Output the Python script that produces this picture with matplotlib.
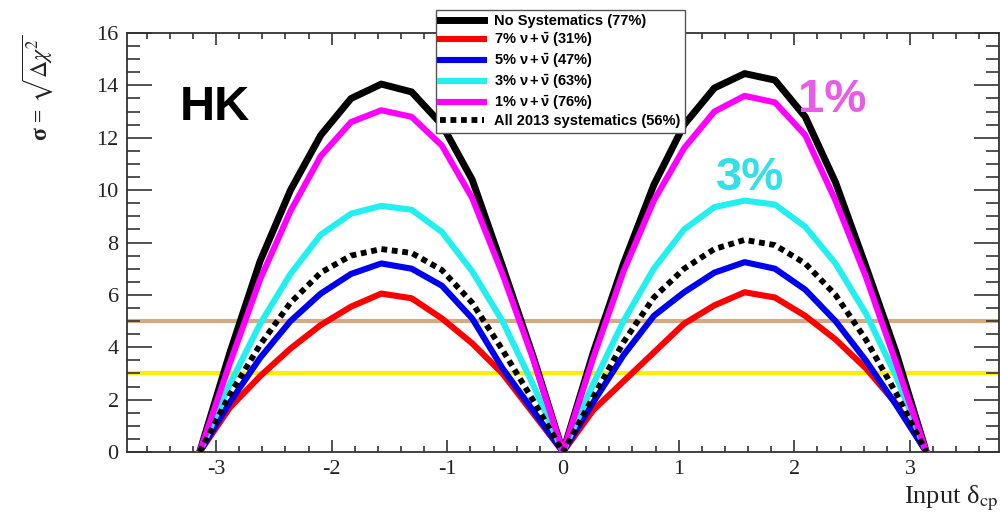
import numpy as np
import matplotlib
matplotlib.use("Agg")
import matplotlib.pyplot as plt
from matplotlib.ticker import MultipleLocator

plt.rcParams['mathtext.fontset'] = 'stix'
plt.rcParams['axes.unicode_minus'] = False

# delta_cp sampled in steps of pi/12 from -pi to pi
k = np.arange(-12, 13)
dcp = k * np.pi / 12

# sigma values, left half (-pi..0) and right half (0..pi)
no_syst_l = [0, 3.8, 7.3, 10.0, 12.1, 13.5, 14.05, 13.75, 12.5, 10.4, 7.1, 3.7, 0]
no_syst_r = [0, 3.8, 7.2, 10.2, 12.5, 13.9, 14.45, 14.2, 12.8, 10.3, 7.1, 3.8, 0]
sys7_l = [0, 1.7, 2.9, 3.95, 4.85, 5.55, 6.05, 5.87, 5.1, 4.15, 3.0, 1.5, 0]
sys7_r = [0, 1.6, 2.7, 3.8, 4.9, 5.6, 6.1, 5.9, 5.2, 4.3, 3.2, 1.85, 0]
sys5_l = [0, 1.9, 3.6, 5.0, 6.05, 6.8, 7.2, 7.0, 6.35, 5.1, 3.2, 1.6, 0]
sys5_r = [0, 1.9, 3.7, 5.2, 6.1, 6.85, 7.25, 7.0, 6.2, 5.0, 3.5, 1.8, 0]
sys3_l = [0, 2.6, 4.9, 6.8, 8.3, 9.1, 9.4, 9.25, 8.4, 6.9, 5.0, 2.6, 0]
sys3_r = [0, 2.6, 5.0, 7.0, 8.5, 9.35, 9.6, 9.45, 8.6, 7.2, 5.3, 2.9, 0]
sys1_l = [0, 3.4, 6.6, 9.2, 11.3, 12.6, 13.05, 12.8, 11.7, 9.7, 6.8, 3.6, 0]
sys1_r = [0, 3.6, 6.9, 9.6, 11.6, 13.0, 13.6, 13.35, 12.1, 9.6, 6.7, 3.4, 0]
all2013_l = [0, 2.2, 4.1, 5.7, 6.85, 7.5, 7.75, 7.6, 6.95, 5.7, 3.9, 2.0, 0]
all2013_r = [0, 2.1, 4.2, 5.9, 7.0, 7.75, 8.1, 7.9, 7.2, 6.0, 4.3, 2.25, 0]

nu = r"$\mathregular{\nu + \bar{\nu}}$"
labels = ["No Systematics (77%)",
          "7% " + nu + " (31%)",
          "5% " + nu + " (47%)",
          "3% " + nu + " (63%)",
          "1% " + nu + " (76%)",
          "All 2013 systematics (56%)"]

def join(left, right):
    return np.array(left + right[1:])

fig = plt.figure(figsize=(10, 5.18), dpi=100)
ax = fig.add_axes([0.127, 0.1274, 0.872, 0.8089])

# 3 and 5 sigma reference lines
ax.axhline(5, color='#d4aa80', lw=3, zorder=1)
ax.axhline(3, color='#f8f000', lw=3, zorder=1)

ax.plot(dcp, join(no_syst_l, no_syst_r), color='black', lw=5, label=labels[0], zorder=3)
ax.plot(dcp, join(sys7_l, sys7_r), color='#ff0000', lw=4.4, label=labels[1], zorder=3)
ax.plot(dcp, join(sys5_l, sys5_r), color='#0000f0', lw=4.4, label=labels[2], zorder=3)
ax.plot(dcp, join(sys3_l, sys3_r), color='#22f0f0', lw=4.4, label=labels[3], zorder=3)
ax.plot(dcp, join(sys1_l, sys1_r), color='#ff00ff', lw=4.4, label=labels[4], zorder=3)
ax.plot(dcp, join(all2013_l, all2013_r), color='black', lw=4.2,
        linestyle=(0, (1, 0.8)), dash_capstyle='butt', label=labels[5], zorder=4)

ax.set_xlim(-1.2 * np.pi, 1.2 * np.pi)
ax.set_ylim(0, 16)
ax.xaxis.set_major_locator(MultipleLocator(1))
ax.xaxis.set_minor_locator(MultipleLocator(0.2))
ax.yaxis.set_major_locator(MultipleLocator(2))
ax.yaxis.set_minor_locator(MultipleLocator(0.5))

for s in ax.spines.values():
    s.set_color('#333333')
    s.set_linewidth(1.3)
ax.tick_params(which='both', direction='in', top=True, right=True, color='#333333', width=1.2)
ax.tick_params(axis='y', which='major', length=18)
ax.tick_params(axis='y', which='minor', length=9.4)
ax.tick_params(axis='x', which='major', length=8.6)
ax.tick_params(axis='x', which='minor', length=4.3)
ax.tick_params(axis='both', labelsize=16, pad=6, labelcolor='#222222')
for lab in ax.get_xticklabels() + ax.get_yticklabels():
    lab.set_family('Liberation Serif')

# axis titles
fig.text(0.038, 1 - 88 / 518, r'σ = $\sqrt{\Delta\chi^2}$', rotation=90,
         ha='center', va='center', fontsize=17, fontweight='bold',
         family='Liberation Serif', color='#222222')
fig.text(0.998, 1 - 498 / 518, r'Input δ$_{\mathrm{cp}}$', ha='right', va='center',
         fontsize=19, family='Liberation Serif', color='#222222')

# experiment and curve tags
ax.text(-3.31, 12.67, 'HK', fontsize=35, fontweight='bold', family='Liberation Sans',
        va='baseline', ha='left', color='black')
ax.text(2.036, 12.98, '1%', fontsize=34, fontweight='bold', family='Liberation Sans',
        va='baseline', ha='left', color='#e95be9')
ax.text(1.319, 10.0, '3%', fontsize=34, fontweight='bold', family='Liberation Sans',
        va='baseline', ha='left', color='#33e0e8')

leg = fig.legend(loc='upper left', bbox_to_anchor=(436 / 1000, 1 - 10 / 518),
                 bbox_transform=fig.transFigure, borderaxespad=0, fancybox=False,
                 framealpha=1, edgecolor='#555555', handlelength=3.0, labelspacing=0.18,
                 borderpad=0.3, handletextpad=0.7,
                 prop={'family': 'Liberation Sans', 'weight': 'bold', 'size': 10.5})
leg.get_frame().set_linewidth(1.0)
leg.set_zorder(10)

fig.savefig('out.png', dpi=100, facecolor='white')
